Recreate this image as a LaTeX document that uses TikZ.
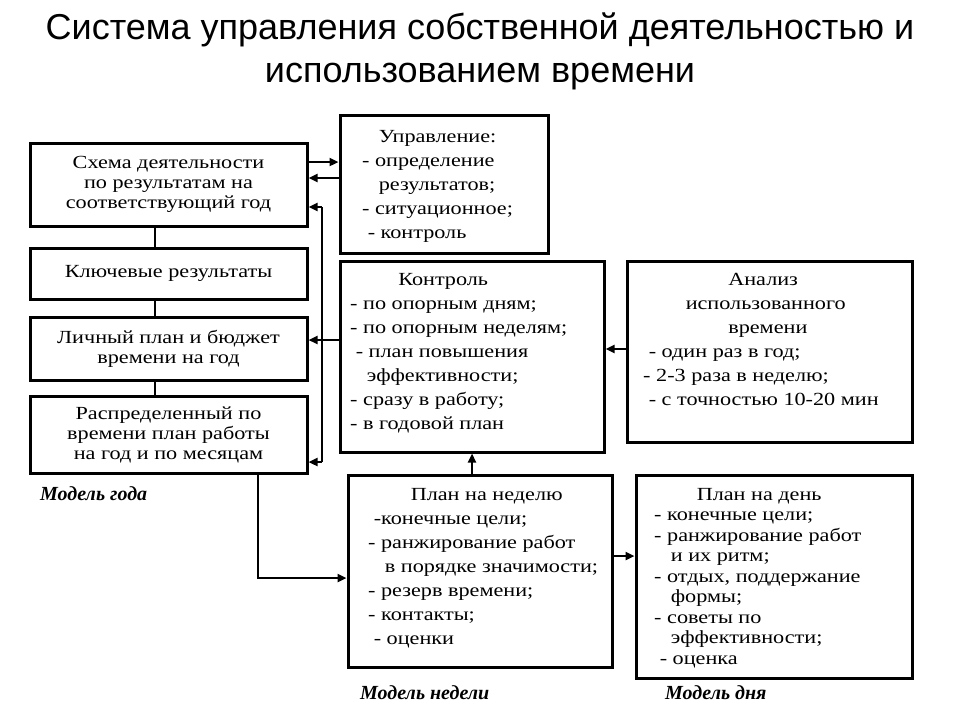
\documentclass[tikz,border=0pt]{standalone}
\usepackage{fontspec}
\setmainfont{Liberation Serif}
\newfontfamily\titlefont{Liberation Sans}
\newfontfamily\boxfont[FakeStretch=1.2]{Liberation Serif}
\usetikzlibrary{arrows.meta}
\begin{document}
\begin{tikzpicture}[x=1pt,y=-1pt,
  bx/.style={draw,line width=3pt,inner sep=0pt},
  txt/.style={font=\boxfont\fontsize{18.5}{24}\selectfont,align=left,inner sep=0pt},
  ctxt/.style={font=\boxfont\fontsize{18.5}{20}\selectfont,align=center,inner sep=0pt},
  lbl/.style={font=\fontsize{20}{22}\selectfont\bfseries\itshape,anchor=west,inner sep=0pt},
  ln/.style={line width=2.5pt},
  ar/.style={line width=2.5pt,-{Triangle[length=9pt,width=8pt]}}]
\useasboundingbox (0,0) rectangle (960,720);
\node[font=\titlefont\fontsize{36}{43}\selectfont,align=center] (title) at (480,51) {Система управления собственной деятельностью и\\использованием времени};
% left column
\node[bx,minimum width=277pt,minimum height=83pt] (b1) at (168.5,184.5) {};
\node[ctxt] at (b1) {Схема деятельности\\по результатам на\\соответствующий год};
\node[bx,minimum width=277pt,minimum height=51pt] (b2) at (168.5,273.5) {};
\node[ctxt] at (b2) {Ключевые результаты};
\node[bx,minimum width=277pt,minimum height=63pt] (b3) at (168.5,348.5) {};
\node[ctxt] at (b3) {Личный план и бюджет\\времени на год};
\node[bx,minimum width=277pt,minimum height=77pt] (b4) at (168.5,434.5) {};
\node[ctxt] at (b4) {Распределенный по\\времени план работы\\на год и по месяцам};
\node[lbl] (l1) at (40,494) {Модель года};
% Управление
\node[bx,minimum width=208pt,minimum height=138pt] (u) at (444,184) {};
\node[txt,anchor=north west] at (362,130) {\ \ \ Управление:\\- определение\\\ \ \ результатов;\\- ситуационное;\\\ - контроль};
% Контроль
\node[bx,minimum width=264pt,minimum height=191pt] (k) at (472,356.5) {};
\node[txt,anchor=north west] at (350,273) {\qquad\ \ Контроль\\- по опорным дням;\\- по опорным неделям;\\\ - план повышения\\\ \ \ эффективности;\\- сразу в работу;\\- в годовой план};
% Анализ
\node[bx,minimum width=285pt,minimum height=181pt] (a) at (769.5,351.5) {};
\node[txt,anchor=north west] at (643,273) {\qquad\qquad\ \ Анализ\\\qquad\ использованного\\\qquad\qquad\ \ времени\\\ - один раз в год;\\- 2-3 раза в неделю;\\\ - с точностью 10-20 мин};
% Неделя
\node[bx,minimum width=264pt,minimum height=192pt] (n) at (480,571) {};
\node[txt,anchor=north west] at (368,488) {\qquad\ План на неделю\\\ -конечные цели;\\- ранжирование работ\\\ \ \ в порядке значимости;\\- резерв времени;\\- контакты;\\\ - оценки};
% День
\node[bx,minimum width=276pt,minimum height=203pt] (d) at (774,576.5) {};
\node[txt,anchor=north west,font=\boxfont\fontsize{18.5}{20.5}\selectfont] at (654,488) {\qquad\ План на день\\- конечные цели;\\- ранжирование работ\\\ \ \ и их ритм;\\- отдых, поддержание\\\ \ \ формы;\\- советы по\\\ \ \ эффективности;\\\ - оценка};
\node[lbl] (l2) at (360,693) {Модель недели};
\node[lbl] (l3) at (665,693) {Модель дня};
% connectors
\draw[ln] (b1.south -| 155,0) -- (b2.north -| 155,0);
\draw[ln] (b2.south -| 155,0) -- (b3.north -| 155,0);
\draw[ln] (b3.south -| 155,0) -- (b4.north -| 155,0);
\draw[ar] (b1.east |- 0,162) -- (u.west |- 0,162);
\draw[ar] (u.west |- 0,178) -- (b1.east |- 0,178);
\coordinate (vt) at (322,207);
\coordinate (vb) at (322,462);
\draw[ar] (vt) -- (b1.east |- vt);
\draw[ln] (vt) -- (vb);
\draw[ar] (vb) -- (b4.east |- vb);
\draw[ar] (k.west |- 0,340) -- (b3.east |- 0,340);
\draw[ar] (a.west |- 0,349) -- (k.east |- 0,349);
\draw[ar] (n.north -| 472,0) -- (k.south -| 472,0);
\draw[ar] (n.east |- 0,556) -- (d.west |- 0,556);
\draw[ar] (b4.south -| 258,0) -- (258,578) -- (n.west |- 0,578);
\end{tikzpicture}
\end{document}
